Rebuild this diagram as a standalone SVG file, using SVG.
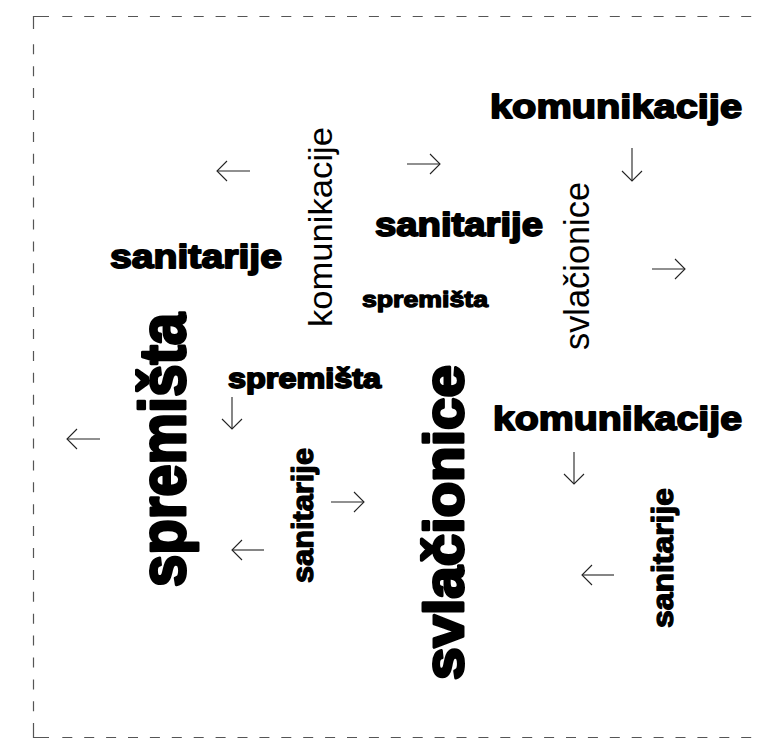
<svg xmlns="http://www.w3.org/2000/svg" width="761" height="745" viewBox="0 0 761 745">
<style>
.b{font-family:"Liberation Sans",Arial,sans-serif;font-weight:bold;fill:#000;stroke:#000;stroke-linejoin:round}
.s1{stroke-width:1.3}
.s2{stroke-width:1.8}
.s3{stroke-width:3}
.r{font-family:"Liberation Sans",Arial,sans-serif;font-weight:normal;fill:#000}
.frame{fill:none;stroke:#555;stroke-width:1.2}
.dash{stroke-dasharray:10 11.9}
.arr{fill:none;stroke:#222;stroke-width:1.1;marker-end:url(#head)}
</style>
<defs>
<marker id="head" viewBox="0 0 12 22" refX="11" refY="11" markerWidth="12" markerHeight="22" markerUnits="userSpaceOnUse" orient="auto">
<path d="M1,1 L11,11 L1,21" fill="none" stroke="#222" stroke-width="1.1"/>
</marker>
</defs>
<rect width="761" height="745" fill="#fff"/>
<g id="frame">
<path class="frame" d="M33.5,29 V16.5 H49"/>
<path class="frame" d="M33.5,723 V737.5 H49"/>
<path class="frame dash" d="M62.3,16.5 H761"/>
<path class="frame dash" d="M62.3,737.5 H761"/>
<path class="frame dash" d="M33.5,44.3 V715"/>
</g>
<g id="n1"><text class="b s2" x="490" y="118" font-size="34" textLength="252" lengthAdjust="spacingAndGlyphs">komunikacije</text></g>
<g id="n2"><text class="r" transform="translate(332,327) rotate(-90)" font-size="33" textLength="200" lengthAdjust="spacingAndGlyphs">komunikacije</text></g>
<g id="n3"><text class="b s2" x="375" y="236" font-size="33" textLength="168" lengthAdjust="spacingAndGlyphs">sanitarije</text></g>
<g id="n4"><text class="b s2" x="110" y="268" font-size="33" textLength="172" lengthAdjust="spacingAndGlyphs">sanitarije</text></g>
<g id="n5"><text class="b s1" x="362" y="307" font-size="22" textLength="126" lengthAdjust="spacingAndGlyphs">spremišta</text></g>
<g id="n6"><text class="r" transform="translate(589,350) rotate(-90)" font-size="35" textLength="168" lengthAdjust="spacingAndGlyphs">svlačionice</text></g>
<g id="n7"><text class="b s3" transform="translate(185,587) rotate(-90)" font-size="64" textLength="274" lengthAdjust="spacingAndGlyphs">spremišta</text></g>
<g id="n8"><text class="b s2" x="228" y="388" font-size="28" textLength="153" lengthAdjust="spacingAndGlyphs">spremišta</text></g>
<g id="n9"><text class="b s2" x="493" y="430" font-size="34" textLength="249" lengthAdjust="spacingAndGlyphs">komunikacije</text></g>
<g id="n10"><text class="b s3" transform="translate(463,680) rotate(-90)" font-size="56" textLength="315" lengthAdjust="spacingAndGlyphs">svlačionice</text></g>
<g id="n11"><text class="b s1" transform="translate(313,583) rotate(-90)" font-size="30" textLength="135" lengthAdjust="spacingAndGlyphs">sanitarije</text></g>
<g id="n12"><text class="b s1" transform="translate(673,628) rotate(-90)" font-size="29" textLength="140" lengthAdjust="spacingAndGlyphs">sanitarije</text></g>
<g id="connectors">
<path class="arr" d="M250,171 H217"/>
<path class="arr" d="M407,164 H440"/>
<path class="arr" d="M632,148 V181"/>
<path class="arr" d="M652,269 H685"/>
<path class="arr" d="M100,439 H67"/>
<path class="arr" d="M232,397 V429"/>
<path class="arr" d="M331,502 H364"/>
<path class="arr" d="M264,550 H232"/>
<path class="arr" d="M574,452 V484"/>
<path class="arr" d="M614,575 H582"/>
</g>
</svg>
